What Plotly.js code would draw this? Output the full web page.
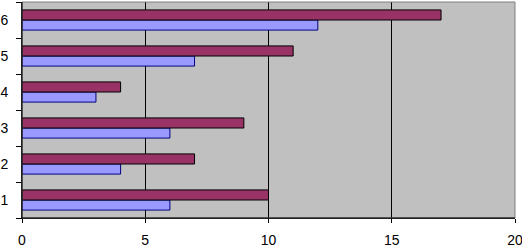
<!DOCTYPE html>
<html><head><meta charset="utf-8">
<script src="https://cdn.plot.ly/plotly-3.0.1.min.js"></script>
<style>html,body{margin:0;padding:0;background:#fff}#chart{width:522px;height:249px}</style>
</head><body><div id="chart"></div>
<script>
const categories = ["1","2","3","4","5","6"];
const seriesBlue = [6,4,6,3,7,12];
const seriesMaroon = [10,7,9,4,11,17];
const xTicks = [0,5,10,15,20];

const traces = [
  {type:'bar', orientation:'h', y:categories, x:seriesBlue, name:'Series 1',
   marker:{color:'#9999FF', line:{color:'#000080', width:1}}},
  {type:'bar', orientation:'h', y:categories, x:seriesMaroon, name:'Series 2',
   marker:{color:'#993366', line:{color:'#000000', width:1}}}
];
const layout = {
  width:522, height:249,
  margin:{l:22, r:7, t:2, b:31},
  paper_bgcolor:'#ffffff', plot_bgcolor:'#C0C0C0',
  barmode:'group', bargap:0.44, bargroupgap:0,
  showlegend:false,
  font:{family:'Liberation Sans, Arial, sans-serif', size:14, color:'#000'},
  xaxis:{range:[0,20], tickvals:xTicks, ticktext:xTicks.map(String), ticks:'outside', ticklen:4, tickcolor:'#000',
         ticklabeloverflow:'allow', ticklabelstandoff:5,
         showline:true, linecolor:'#000', linewidth:1, showgrid:true, gridcolor:'#000', gridwidth:1, zeroline:false, fixedrange:true},
  yaxis:{type:'category', categoryorder:'array', categoryarray:categories, tickson:'boundaries', ticks:'outside', ticklen:5, tickcolor:'#000',
         ticklabeloverflow:'allow',
         showline:true, linecolor:'#000', linewidth:1, showgrid:false, zeroline:false, ticklabelstandoff:10, fixedrange:true},
  shapes:[{type:'rect', xref:'paper', yref:'paper', x0:0, x1:1, y0:0, y1:1, line:{color:'#808080', width:1}, layer:'above'},
          {type:'line', xref:'paper', yref:'paper', x0:0, x1:0, y0:0, y1:1, line:{color:'#000', width:1}, layer:'above'},
          {type:'line', xref:'paper', yref:'paper', x0:0, x1:1, y0:0, y1:0, line:{color:'#000', width:1}, layer:'above'}]
};
Plotly.newPlot('chart', traces, layout, {displayModeBar:false, staticPlot:true});
</script></body></html>
